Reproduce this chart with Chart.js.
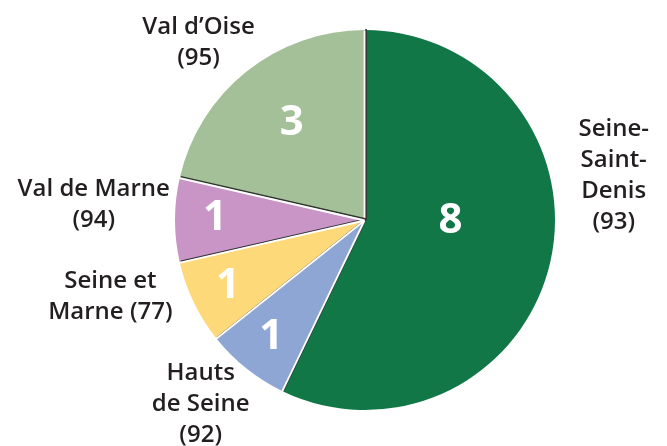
<!DOCTYPE html>
<html>
<head>
<meta charset="utf-8">
<script src="https://cdn.jsdelivr.net/npm/chart.js@4.4.0/dist/chart.umd.min.js"></script>
<style>
  html, body { margin: 0; padding: 0; background: #fff; }
  #wrap { width: 667px; height: 446px; }
</style>
</head>
<body>
<div id="wrap"><canvas id="pie"></canvas></div>
<script>
// Départements (ordre horaire depuis le haut)
const departements = [
    ['Seine-', 'Saint-', 'Denis', '(93)'],
    ['Hauts', 'de Seine', '(92)'],
    ['Seine et', 'Marne (77)'],
    ['Val de Marne', '(94)'],
    ['Val d\u2019Oise', '(95)']
];
const valeurs = [8, 1, 1, 1, 3];
const couleurs = ['#117747', '#8ea6d4', '#fdd97a', '#c995c6', '#a4c098'];

// position des chiffres (angle en degrés depuis le haut, rayon relatif)
const posChiffres = [[91, 0.45], [218.6, 0.79], [244.3, 0.80], [270.6, 0.79], [323, 0.64]];
// position des étiquettes extérieures
const posNoms = [[79.8, 1.33], [221.7, 1.30], [253.2, 1.40], [273.2, 1.43], [316.8, 1.28]];

const TEXTE = '#231f20';
const rad = a => (a - 90) * Math.PI / 180;

const etiquettes = {
    id: 'etiquettes',
    afterDatasetsDraw(chart) {
        const ctx = chart.ctx;
        const arcs = chart.getDatasetMeta(0).data;
        const cx = arcs[0].x, cy = arcs[0].y, R = arcs[0].outerRadius;

        // séparateurs (trait blanc + fine ombre)
        arcs.forEach(arc => {
            const a = arc.startAngle;
            const ex = Math.cos(a) * R, ey = Math.sin(a) * R;
            ctx.save();
            ctx.lineCap = 'butt';
            ctx.strokeStyle = '#333333';
            ctx.lineWidth = 1.5;
            ctx.beginPath();
            ctx.moveTo(cx + 1.1, cy - 1.1);
            ctx.lineTo(cx + ex + 1.1, cy + ey - 1.1);
            ctx.stroke();
            ctx.strokeStyle = '#ffffff';
            ctx.lineWidth = 1.8;
            ctx.beginPath();
            ctx.moveTo(cx - 0.5, cy + 0.5);
            ctx.lineTo(cx + ex - 0.5, cy + ey + 0.5);
            ctx.stroke();
            ctx.restore();
        });

        ctx.save();
        ctx.textAlign = 'center';
        ctx.textBaseline = 'middle';

        // chiffres
        ctx.fillStyle = '#ffffff';
        ctx.font = 'bold 42px "Open Sans", sans-serif';
        valeurs.forEach((v, i) => {
            const [ang, f] = posChiffres[i];
            ctx.fillText(String(v), cx + Math.cos(rad(ang)) * R * f, cy + Math.sin(rad(ang)) * R * f);
        });

        // noms
        ctx.fillStyle = TEXTE;
        ctx.font = '600 24px "Open Sans", sans-serif';
        const lh = 31;
        departements.forEach((lignes, i) => {
            const [ang, f] = posNoms[i];
            const x = cx + Math.cos(rad(ang)) * R * f;
            const y = cy + Math.sin(rad(ang)) * R * f;
            const y0 = y - (lignes.length - 1) * lh / 2;
            lignes.forEach((t, j) => ctx.fillText(t, x, y0 + j * lh));
        });
        ctx.restore();
    }
};

new Chart(document.getElementById('pie'), {
    type: 'pie',
    data: {
        labels: departements.map(l => l.join(' ')),
        datasets: [{
            data: valeurs,
            backgroundColor: couleurs,
            borderWidth: 0
        }]
    },
    options: {
        responsive: true,
        maintainAspectRatio: false,
        animation: false,
        layout: { padding: { top: 30, bottom: 36, left: 175, right: 112 } },
        plugins: {
            legend: { display: false },
            tooltip: { enabled: false }
        }
    },
    plugins: [etiquettes]
});
</script>
</body>
</html>
